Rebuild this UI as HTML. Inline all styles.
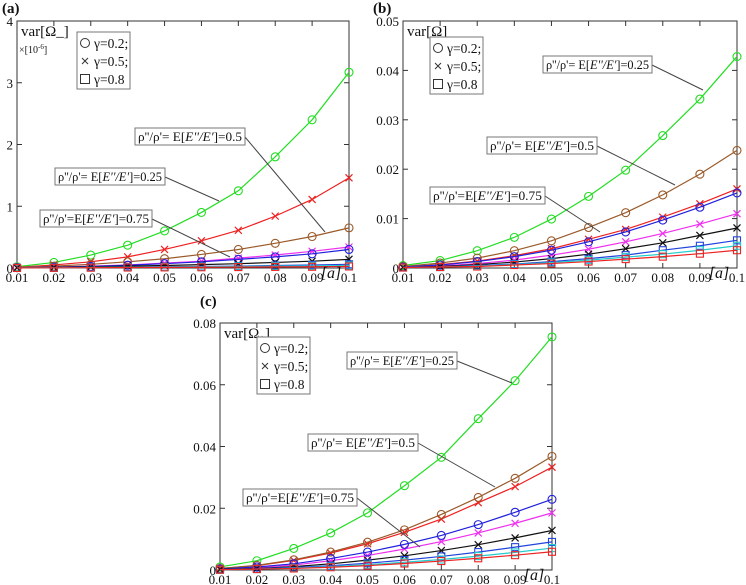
<!DOCTYPE html>
<html><head><meta charset="utf-8">
<style>
body{margin:0;background:#fff;}
svg{display:block;font-family:"Liberation Serif",serif;}
</style></head>
<body>
<svg id="fig" width="746" height="585" viewBox="0 0 746 585"></svg>
<script>
const xCats=[0.01,0.02,0.03,0.04,0.05,0.06,0.07,0.08,0.09,0.1];
const xTickLabels=["0.01","0.02","0.03","0.04","0.05","0.06","0.07","0.08","0.09","0.1"];
const seriesColors=["#22dd22","#ee2020","#9a5a2a","#ee30ee","#2020dd","#111111","#2244dd","#22cccc","#ee2222"];
const seriesMarkers=["o","x","o","x","o","x","s","s","s"];
// panel a (x1e-6)
const aTicks=[0,1,2,3,4];
const aGreen=[0.02,0.09,0.21,0.37,0.6,0.9,1.25,1.8,2.4,3.17];
const aRedX=[0.01,0.05,0.1,0.18,0.3,0.44,0.61,0.84,1.11,1.46];
const aBrown=[0.01,0.03,0.06,0.1,0.15,0.22,0.3,0.4,0.51,0.65];
const aMagenta=[0.005,0.015,0.03,0.05,0.08,0.11,0.16,0.21,0.27,0.34];
const aBlueO=[0.005,0.013,0.025,0.045,0.07,0.1,0.14,0.18,0.23,0.3];
const aBlack=[0.003,0.01,0.02,0.03,0.04,0.055,0.07,0.09,0.11,0.14];
const aBlueS=[0.002,0.005,0.01,0.015,0.02,0.025,0.03,0.04,0.05,0.06];
const aCyan=[0.002,0.004,0.008,0.012,0.016,0.02,0.025,0.03,0.035,0.04];
const aRedS=[0.001,0.003,0.005,0.008,0.01,0.012,0.015,0.018,0.02,0.025];
// panel b
const bTicks=[0,0.01,0.02,0.03,0.04,0.05];
const bGreen=[0.0005,0.0015,0.0035,0.0062,0.0099,0.0145,0.0198,0.0268,0.0342,0.0428];
const bRedX=[0.0002,0.0007,0.0014,0.0025,0.0039,0.0058,0.0078,0.0103,0.013,0.016];
const bBrown=[0.0003,0.001,0.002,0.0035,0.0055,0.0082,0.0112,0.0148,0.019,0.0238];
const bMagenta=[0.0001,0.0004,0.0009,0.0016,0.0026,0.0038,0.0053,0.007,0.0089,0.011];
const bBlueO=[0.0002,0.0006,0.0013,0.0023,0.0036,0.0053,0.0073,0.0097,0.0123,0.0152];
const bBlack=[0.0001,0.0003,0.0007,0.0012,0.0019,0.0028,0.0039,0.0051,0.0066,0.0081];
const bBlueS=[0.0001,0.0002,0.0005,0.0008,0.0013,0.0019,0.0026,0.0036,0.0045,0.0056];
const bCyan=[0.0001,0.0002,0.0004,0.0007,0.0011,0.0016,0.0022,0.0028,0.0036,0.0045];
const bRedS=[0.0001,0.0002,0.0003,0.0006,0.0009,0.0013,0.0018,0.0023,0.0029,0.0036];
// panel c
const cTicks=[0,0.02,0.04,0.06,0.08];
const cGreen=[0.001,0.003,0.007,0.012,0.0185,0.0273,0.0365,0.049,0.0613,0.0755];
const cRedX=[0.0005,0.0014,0.0031,0.0055,0.0085,0.0122,0.0165,0.0218,0.027,0.0333];
const cBrown=[0.0005,0.0015,0.0033,0.0058,0.009,0.013,0.018,0.0235,0.0297,0.0368];
const cMagenta=[0.0002,0.0008,0.0016,0.003,0.0047,0.0068,0.0092,0.012,0.0151,0.0185];
const cBlueO=[0.0003,0.001,0.002,0.0037,0.0058,0.0083,0.0112,0.0147,0.0187,0.0229];
const cBlack=[0.0002,0.0005,0.0011,0.002,0.0032,0.0046,0.0063,0.0082,0.0104,0.0128];
const cBlueS=[0.0001,0.0004,0.0008,0.0014,0.0022,0.0032,0.0044,0.0058,0.0074,0.0091];
const cCyan=[0.0001,0.0003,0.0006,0.0011,0.0017,0.0025,0.0034,0.0045,0.0057,0.0071];
const cRedS=[0.0001,0.0003,0.0005,0.0009,0.0014,0.0021,0.0029,0.0038,0.0048,0.0059];

const NS="http://www.w3.org/2000/svg";
const svg=document.getElementById('fig');
function mk(tag,attrs,parent,text){const e=document.createElementNS(NS,tag);for(const k in attrs)e.setAttribute(k,attrs[k]);if(text!==undefined)e.textContent=text;(parent||svg).appendChild(e);return e;}

function panel(id,box,ticks,tickLabels,series,opts){
  const g=mk('g',{});
  
  
  const {L,R,T,B}=box;
  const yMax=ticks[ticks.length-1];
  const xs=v=>L+(v-xCats[0])/(xCats[xCats.length-1]-xCats[0])*(R-L);
  const ys=v=>B-v/yMax*(B-T);
  const frame=mk('rect',{x:L,y:T,width:R-L,height:B-T,fill:'none',stroke:'#333','stroke-width':1},g);
  
  
  xCats.forEach((v,i)=>{
    const x=xs(v);
    mk('line',{x1:x,y1:B,x2:x,y2:B-5,stroke:'#333'},g);
    mk('line',{x1:x,y1:T,x2:x,y2:T+5,stroke:'#333'},g);
    const t=mk('text',{x:x,y:B+14,'font-size':13,'text-anchor':'middle',fill:'#111'},g,xTickLabels[i]);
    
    
  });
  ticks.forEach((v,i)=>{
    const y=ys(v);
    mk('line',{x1:L,y1:y,x2:L+5,y2:y,stroke:'#333'},g);
    mk('line',{x1:R,y1:y,x2:R-5,y2:y,stroke:'#333'},g);
    const t=mk('text',{x:L-4,y:y+5,'font-size':13,'text-anchor':'end',fill:'#111'},g,tickLabels[i]);
    
    
  });
  series.forEach((vals,si)=>{
    const col=seriesColors[si];
    const pts=vals.map((v,i)=>xs(xCats[i])+','+ys(v)).join(' ');
    const pl=mk('polyline',{points:pts,fill:'none',stroke:col,'stroke-width':1.2},g);
    
    
    vals.forEach((v,i)=>{
      const x=xs(xCats[i]),y=ys(v),m=seriesMarkers[si];
      let e;
      if(m==='o') e=mk('circle',{cx:x,cy:y,r:4,fill:'none',stroke:col,'stroke-width':1.1},g);
      else if(m==='s') e=mk('rect',{x:x-3.5,y:y-3.5,width:7,height:7,fill:'none',stroke:col,'stroke-width':1.1},g);
      else e=mk('path',{d:`M${x-3.5},${y-3.5}L${x+3.5},${y+3.5}M${x-3.5},${y+3.5}L${x+3.5},${y-3.5}`,stroke:col,'stroke-width':1.2},g);
      
      
    });
  });
  const xl=mk('text',{x:R-18,y:B+10,'font-size':16,'font-style':'italic','text-anchor':'middle',fill:'#111'},g,'[a]');
  
  
  const yl=mk('text',{x:L+4,y:T+15,'font-size':15,fill:'#111'},g,opts.ylabel);
  
  
  if(opts.ysub){mk('tspan',{'font-size':10,dy:4},yl,opts.ysub);mk('tspan',{dy:-4},yl,']');}
  if(opts.unit){const u=mk('text',{x:L+2,y:T+32,'font-size':10,fill:'#111'},g,'×[10');
    mk('tspan',{'font-size':7,dy:-4},u,'-6');mk('tspan',{dy:4},u,']');
    
    }
  const pl=mk('text',{x:opts.pl[0],y:opts.pl[1],'font-size':15,'font-weight':'bold',fill:'#111'},g,opts.plabel);
  
  
  const [lx,ly]=opts.leg;
  const lg=mk('g',{},g);
  
  
  mk('rect',{x:lx,y:ly,width:53,height:57,fill:'#fff',stroke:'#777'},lg);
  const items=[['o','γ=0.2;'],['x','γ=0.5;'],['s','γ=0.8']];
  items.forEach((it,i)=>{
    const cy=ly+11+i*18;
    if(it[0]==='o') mk('circle',{cx:lx+8,cy:cy,r:4.5,fill:'none',stroke:'#333'},lg);
    else if(it[0]==='s') mk('rect',{x:lx+3.5,y:cy-4.5,width:9,height:9,fill:'none',stroke:'#333'},lg);
    else mk('path',{d:`M${lx+5},${cy-3}L${lx+11},${cy+3}M${lx+5},${cy+3}L${lx+11},${cy-3}`,stroke:'#333'},lg);
    const t=mk('text',{x:lx+17,y:cy+5,'font-size':13.5,fill:'#111'},lg,it[1]);
    
    
  });
  opts.ann.forEach(a=>{
    const [bx,by,bw,txt,ex,ey]=a;
    mk('line',{x1:bx+bw,y1:by+9,x2:ex,y2:ey,stroke:'#444','stroke-width':1},g);
    mk('rect',{x:bx,y:by,width:bw,height:17,fill:'#fff',stroke:'#777'},g);
    const t=mk('text',{x:bx+3,y:by+13,'font-size':13,fill:'#111',textLength:bw-6,lengthAdjust:'spacingAndGlyphs'},g);
    
    
    txt.split('|').forEach((p,i)=>{mk('tspan',{'font-style':i%2?'italic':'normal'},t,p);});
  });
}
panel('a',{L:17,R:349,T:21,B:268},aTicks,["0","1","2","3","4"],
  [aGreen,aRedX,aBrown,aMagenta,aBlueO,aBlack,aBlueS,aCyan,aRedS],
  {ylabel:'var[Ω_]',unit:true,plabel:'(a)',pl:[2,13],leg:[77,32],
   ann:[[135,128,110,"ρ''/ρ'= E[|E''/E'|]=0.5",325,232],[55,168,110,"ρ''/ρ'= E[|E''/E'|]=0.25",219,201],[40,210,112,"ρ''/ρ'=E[|E''/E'|]=0.75",230,257]]});
panel('b',{L:403,R:737,T:21,B:268},bTicks,["0","0.01","0.02","0.03","0.04","0.05"],
  [bGreen,bRedX,bBrown,bMagenta,bBlueO,bBlack,bBlueS,bCyan,bRedS],
  {ylabel:'var[Ω]',plabel:'(b)',pl:[373,13],leg:[430,37],
   ann:[[543,56,109,"ρ''/ρ'= E[|E''/E'|]=0.25",703,90],[487,137,110,"ρ''/ρ'= E[|E''/E'|]=0.5",675,185],[430,187,115,"ρ''/ρ'=E[|E''/E'|]=0.75",600,232]]});
panel('c',{L:220,R:552,T:323,B:570},cTicks,["0","0.02","0.04","0.06","0.08"],
  [cGreen,cRedX,cBrown,cMagenta,cBlueO,cBlack,cBlueS,cCyan,cRedS],
  {ylabel:'var[Ω',ysub:'+',plabel:'(c)',pl:[200,306],leg:[257,337],
   ann:[[347,352,110,"ρ''/ρ'= E[|E''/E'|]=0.25",512,383],[308,434,110,"ρ''/ρ'= E[|E''/E'|]=0.5",495,487],[243,489,114,"ρ''/ρ'=E[|E''/E'|]=0.75",420,547]]});
</script>
</body></html>
